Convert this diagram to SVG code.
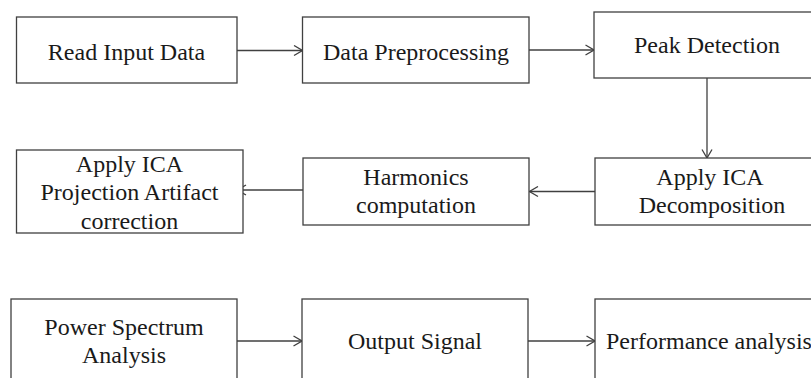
<svg xmlns="http://www.w3.org/2000/svg" width="811" height="378" viewBox="0 0 811 378">
  <style>
    .box { fill: #ffffff; stroke: #404040; stroke-width: 1.3; }
    .lbl { font-family: "Liberation Serif", "Times New Roman", serif; font-size: 24px; fill: #1a1a1a; text-anchor: middle; }
    .edge { fill: none; stroke: #404040; stroke-width: 1.3; marker-end: url(#open); }
  </style>
  <defs>
    <marker id="open" viewBox="0 0 10 12" refX="9.5" refY="6" markerWidth="10" markerHeight="12" markerUnits="userSpaceOnUse" orient="auto">
      <path d="M1,1 L9.5,6 L1,11" fill="none" stroke="#404040" stroke-width="1.3"/>
    </marker>
  </defs>
  <rect width="811" height="378" fill="#ffffff"/>

  <g id="connectors">
    <line class="edge" x1="237" y1="50.5" x2="302.5" y2="50.5"/>
    <line class="edge" x1="529" y1="50" x2="594" y2="50"/>
    <line class="edge" x1="707" y1="78" x2="707" y2="158"/>
    <line class="edge" x1="595" y1="191.5" x2="529.5" y2="191.5"/>
    <line class="edge" x1="303" y1="190" x2="237.5" y2="190"/>
    <line class="edge" x1="237" y1="341" x2="302" y2="341"/>
    <line class="edge" x1="528" y1="341" x2="595" y2="341"/>
  </g>

  <g id="read-input">
    <rect class="box" x="16.5" y="17" width="220.5" height="66"/>
    <text class="lbl" x="126.5" y="60">Read Input Data</text>
  </g>
  <g id="preprocessing">
    <rect class="box" x="302.5" y="17" width="226.5" height="66"/>
    <text class="lbl" x="416" y="60">Data Preprocessing</text>
  </g>
  <g id="peak-detection">
    <rect class="box" x="594" y="12" width="230" height="66"/>
    <text class="lbl" x="707" y="53">Peak Detection</text>
  </g>
  <g id="ica-decomposition">
    <rect class="box" x="595" y="158" width="230" height="67"/>
    <text class="lbl" x="710" y="185">Apply ICA</text>
    <text class="lbl" x="712" y="213">Decomposition</text>
  </g>
  <g id="harmonics">
    <rect class="box" x="303" y="158" width="226" height="67"/>
    <text class="lbl" x="416" y="185">Harmonics</text>
    <text class="lbl" x="416" y="213">computation</text>
  </g>
  <g id="ica-projection">
    <rect class="box" x="16.5" y="150" width="226.5" height="83"/>
    <text class="lbl" x="129.5" y="172">Apply ICA</text>
    <text class="lbl" x="129.5" y="200">Projection Artifact</text>
    <text class="lbl" x="129.5" y="229">correction</text>
  </g>
  <g id="power-spectrum">
    <rect class="box" x="11" y="299" width="226" height="90"/>
    <text class="lbl" x="124" y="335">Power Spectrum</text>
    <text class="lbl" x="124" y="363">Analysis</text>
  </g>
  <g id="output-signal">
    <rect class="box" x="302" y="299" width="226" height="90"/>
    <text class="lbl" x="415" y="349">Output Signal</text>
  </g>
  <g id="performance">
    <rect class="box" x="595" y="299" width="230" height="90"/>
    <text class="lbl" x="606" y="349" style="text-anchor:start">Performance analysis</text>
  </g>
</svg>
